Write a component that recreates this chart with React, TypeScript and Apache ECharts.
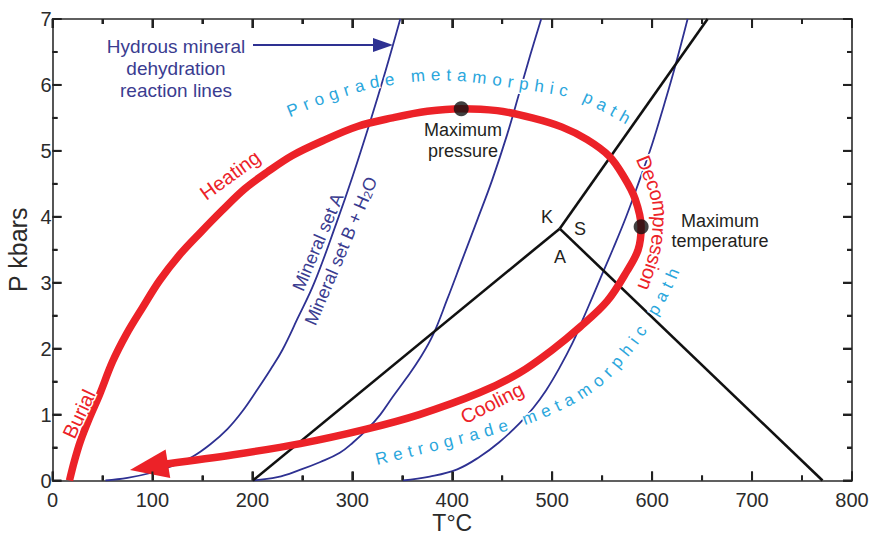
import React, { useEffect, useRef } from "react";
import * as echarts from "echarts";

const FONT = '"Liberation Sans", Arial, Helvetica, sans-serif';
const RED = "#ec2228";
const NAVY = "#2e3192";
const NAVY_TEXT = "#3a3c90";
const CYAN = "#2aa6dc";
const INK = "#231f20";
const AXIS = "#2b2b2b";

// Axis ranges and ticks
const tempMin = 0;
const tempMax = 800;
const tempStep = 100;
const tempTicks = [0, 100, 200, 300, 400, 500, 600, 700, 800];
const tempMinorTicks = [50, 150, 250, 350, 450, 550, 650, 750];
const pressMin = 0;
const pressMax = 7;
const pressStep = 1;
const pressTicks = [0, 1, 2, 3, 4, 5, 6, 7];
const pressMinorTicks = [0.5, 1.5, 2.5, 3.5, 4.5, 5.5, 6.5];

// Metamorphic P–T path (T in °C, P in kbar): burial, heating, max P, max T, decompression, cooling (last point = arrow tip)
const pathT = [17, 22, 28, 37, 47, 60, 74, 90, 107, 127, 148, 170, 192, 215, 240, 270, 305, 340, 375, 409, 445, 480, 510, 535, 557, 572, 583, 589, 586, 575, 555, 528, 500, 467, 427, 367, 314, 248, 181, 114, 77.5];
const pathP = [0, 0.3, 0.6, 0.95, 1.3, 1.8, 2.22, 2.62, 3.03, 3.42, 3.76, 4.1, 4.42, 4.68, 4.93, 5.15, 5.37, 5.5, 5.6, 5.64, 5.61, 5.5, 5.36, 5.17, 4.92, 4.6, 4.27, 3.85, 3.5, 3.18, 2.72, 2.33, 1.98, 1.63, 1.33, 1.0, 0.78, 0.56, 0.39, 0.25, 0.16];

// Hydrous mineral dehydration reaction lines
const reaction1T = [53, 75, 97, 120, 140, 158, 175, 190, 205, 218, 230, 245, 262, 284, 300, 318, 333, 348];
const reaction1P = [0, 0.04, 0.11, 0.22, 0.36, 0.55, 0.78, 1.05, 1.38, 1.68, 1.98, 2.45, 3.0, 3.9, 4.6, 5.45, 6.2, 7.0];
const reaction2T = [200.5, 225, 247.5, 268, 287.5, 301, 314.5, 328, 340.5, 354, 367.5, 380.5, 395, 410, 425, 440, 455, 467.5, 478, 489];
const reaction2P = [0, 0.05, 0.16, 0.28, 0.42, 0.58, 0.77, 1.0, 1.27, 1.55, 1.85, 2.2, 2.75, 3.35, 3.95, 4.56, 5.25, 5.9, 6.45, 7.0];
const reaction3T = [350.5, 377.5, 405, 427.5, 447, 467.5, 481, 494, 507, 520.5, 530, 540.5, 550, 560.5, 574, 587.5, 600, 612, 623, 635.5];
const reaction3P = [0, 0.06, 0.17, 0.36, 0.58, 0.87, 1.1, 1.37, 1.7, 2.09, 2.42, 2.79, 3.13, 3.5, 4.0, 4.56, 5.1, 5.7, 6.28, 7.0];

// Al2SiO5 (kyanite / andalusite / sillimanite) boundaries
const triplePoint = [507.5, 3.82];
const kyaniteAndalusiteEnd = [200.5, 0];
const kyaniteSillimaniteEnd = [655.5, 7];
const andalusiteSillimaniteEnd = [770.5, 0];

const zip = (a: number[], b: number[]) => a.map((v, i) => [v, b[i]]);

function measure(ch: string, font: string): number {
  const c = document.createElement("canvas");
  const ctx = c.getContext("2d")!;
  ctx.font = font;
  return ctx.measureText(ch).width;
}

function sampleSpline(pts: number[][], n = 24): number[][] {
  const out: number[][] = [];
  const f = (a: number, b: number, c: number, d: number, t: number) =>
    0.5 * (2 * b + (-a + c) * t + (2 * a - 5 * b + 4 * c - d) * t * t + (-a + 3 * b - 3 * c + d) * t * t * t);
  for (let i = 0; i < pts.length - 1; i++) {
    const p0 = pts[Math.max(0, i - 1)];
    const p1 = pts[i];
    const p2 = pts[i + 1];
    const p3 = pts[Math.min(pts.length - 1, i + 2)];
    for (let k = 0; k < n; k++) {
      const t = k / n;
      out.push([f(p0[0], p1[0], p2[0], p3[0], t), f(p0[1], p1[1], p2[1], p3[1], t)]);
    }
  }
  out.push(pts[pts.length - 1]);
  return out;
}

function textOnCurve(text: string, guide: number[][], size: number, spacing: number, color: string, halo = true) {
  const font = `${size}px ${FONT}`;
  const s = sampleSpline(guide);
  const cum = [0];
  for (let i = 1; i < s.length; i++) cum.push(cum[i - 1] + Math.hypot(s[i][0] - s[i - 1][0], s[i][1] - s[i - 1][1]));
  const at = (d: number) => {
    let j = 0;
    while (j < s.length - 2 && cum[j + 1] < d) j++;
    const a = s[j];
    const b = s[j + 1];
    const segLen = cum[j + 1] - cum[j] || 1;
    const t = (d - cum[j]) / segLen;
    return { x: a[0] + (b[0] - a[0]) * t, y: a[1] + (b[1] - a[1]) * t, ang: Math.atan2(b[1] - a[1], b[0] - a[0]) };
  };
  const widths = Array.from(text).map((ch) => measure(ch, font));
  const els: any[] = [];
  let d = 0;
  Array.from(text).forEach((ch, i) => {
    if (i > 0) d += (widths[i - 1] + widths[i]) / 2 + spacing;
    if (ch === " ") return;
    const p = at(d);
    els.push({
      type: "text",
      x: p.x,
      y: p.y,
      rotation: -p.ang,
      z: 100,
      silent: true,
      style: {
        text: ch,
        font,
        fill: color,
        align: "center",
        verticalAlign: "middle",
        textAlign: "center",
        textVerticalAlign: "middle",
        ...(halo ? { stroke: "#fff", lineWidth: 3 } : {}),
      },
    });
  });
  return els;
}

function label(text: string, x: number, y: number, size: number, color: string, rotDeg = 0, extra: any = {}) {
  return {
    type: "text",
    x,
    y,
    rotation: (rotDeg * Math.PI) / 180,
    z: 100,
    silent: true,
    style: {
      text,
      font: `${size}px ${FONT}`,
      fontSize: size,
      fontFamily: FONT,
      fill: color,
      align: "center",
      verticalAlign: "middle",
      textAlign: "center",
      textVerticalAlign: "middle",
      ...extra,
    },
  };
}

export default function App() {
  const ref = useRef<HTMLDivElement>(null);
  useEffect(() => {
    if (!ref.current) return;
    const chart = echarts.init(ref.current, null, { renderer: "svg" });

    const pathPts = zip(pathT, pathP);
    const shaft = pathPts.slice(0, -1);
    const tip = pathPts[pathPts.length - 1];
    const prev = pathPts[pathPts.length - 2];
    let iMaxP = 0;
    let iMaxT = 0;
    pathP.forEach((v, i) => { if (v > pathP[iMaxP]) iMaxP = i; });
    pathT.forEach((v, i) => { if (v > pathT[iMaxT]) iMaxT = i; });

    const MAJOR = 9;
    const MINOR = 5;
    const axisLine = () => ({ show: true, onZero: false, lineStyle: { color: AXIS, width: 1.6 } });
    const axisTick = () => ({ show: true, inside: true, length: MAJOR, lineStyle: { color: "#222", width: 2 } });
    const minorTick = () => ({ show: true, splitNumber: 2, length: MINOR, lineStyle: { color: "#222", width: 2 } });
    const labelStyle = { color: AXIS, fontSize: 20, fontFamily: FONT };

    const reactionLine = (t: number[], p: number[]) => ({
      type: "line",
      data: zip(t, p),
      smooth: 0.4,
      showSymbol: false,
      silent: true,
      z: 2,
      lineStyle: { color: NAVY, width: 1.8 },
    });
    const blackLine = (a: number[], b: number[]) => ({
      type: "line",
      data: [a, b],
      showSymbol: false,
      silent: true,
      z: 3,
      lineStyle: { color: "#111", width: 2.6 },
    });
    const tickLine = (x1: number, y1: number, x2: number, y2: number) => ({
      type: "line",
      shape: { x1, y1, x2, y2 },
      style: { stroke: "#222", lineWidth: 2 },
    });

    const graphic: any[] = [
      label("Hydrous mineral\ndehydration\nreaction lines", 176, 68, 19, NAVY_TEXT, 0, { lineHeight: 22 }),
      { type: "line", z: 100, silent: true, shape: { x1: 253, y1: 45, x2: 378, y2: 45 }, style: { stroke: NAVY, lineWidth: 2.2 } },
      { type: "polygon", z: 100, silent: true, shape: { points: [[393, 45], [373, 38], [373, 52]] }, style: { fill: NAVY } },
      label("Mineral set A", 318, 242, 18, NAVY_TEXT, 67),
      {
        type: "text",
        x: 341,
        y: 251,
        rotation: (67 * Math.PI) / 180,
        z: 100,
        silent: true,
        style: {
          text: "Mineral set B + H{sub|2}O",
          fontSize: 18,
          fontFamily: FONT,
          fill: NAVY_TEXT,
          align: "center",
          verticalAlign: "middle",
          textAlign: "center",
          textVerticalAlign: "middle",
          rich: { sub: { fontSize: 12, fontFamily: FONT, fill: NAVY_TEXT, verticalAlign: "bottom", lineHeight: 14, padding: [8, 0, 0, 0] } },
        },
      },
      ...textOnCurve(
        "Prograde metamorphic path",
        [[293, 110], [323, 98], [363, 85], [388, 80], [417, 76], [450, 75], [482, 78], [517, 83], [550, 88], [570, 92], [586, 97], [600, 104], [612, 110], [622, 116], [640, 126]],
        17, 6, CYAN
      ),
      ...textOnCurve(
        "Retrograde metamorphic path",
        [[381.7, 458.3], [435, 445], [490, 430], [531.7, 416.7], [573, 398], [601.7, 378], [620, 358], [636.7, 336.7], [653, 311.7], [665, 290], [673, 273], [681, 252]],
        17, 5.7, CYAN
      ),
      ...textOnCurve(
        "Decompression",
        [[645, 163], [655, 188], [660, 210], [659, 232], [657, 250], [652, 267], [643, 291], [635, 305]],
        20, 0, RED
      ),
      label("Heating", 230, 175, 20, RED, 36, { stroke: "#fff", lineWidth: 3 }),
      label("Burial", 79, 414, 20, RED, 65, { stroke: "#fff", lineWidth: 3 }),
      label("Cooling", 492, 403, 20, RED, 27, { stroke: "#fff", lineWidth: 3 }),
      label("Maximum\npressure", 463, 140, 18, INK, 0, { lineHeight: 21 }),
      label("Maximum\ntemperature", 720, 231, 18, INK, 0, { lineHeight: 20 }),
      label("K", 547, 217, 18, INK),
      label("S", 580, 229, 18, INK),
      label("A", 560, 257, 18, INK),
    ];

    chart.setOption({
      animation: false,
      backgroundColor: "#ffffff",
      textStyle: { fontFamily: FONT },
      grid: { left: 52.5, right: 24, top: 19, bottom: 54.5, containLabel: false, outerBoundsMode: "none" },
      xAxis: [
        {
          type: "value",
          position: "bottom",
          min: tempMin,
          max: tempMax,
          interval: tempStep,
          axisLine: axisLine(),
          axisTick: axisTick(),
          minorTick: minorTick(),
          splitLine: { show: false },
          axisLabel: { ...labelStyle, margin: 9 },
          name: "T°C",
          nameLocation: "middle",
          nameGap: 31,
          nameMoveOverlap: false,
          nameTextStyle: { color: AXIS, fontSize: 23, fontFamily: FONT },
        },
        {
          type: "value",
          position: "top",
          min: tempMin,
          max: tempMax,
          interval: tempStep,
          axisLine: axisLine(),
          axisTick: axisTick(),
          minorTick: minorTick(),
          splitLine: { show: false },
          axisLabel: { show: false },
        },
      ],
      yAxis: [
        {
          type: "value",
          position: "left",
          min: pressMin,
          max: pressMax,
          interval: pressStep,
          axisLine: axisLine(),
          axisTick: axisTick(),
          minorTick: minorTick(),
          splitLine: { show: false },
          axisLabel: { ...labelStyle, margin: 1 },
          name: "P kbars",
          nameLocation: "middle",
          nameRotate: 90,
          nameGap: 22,
          nameMoveOverlap: false,
          nameTextStyle: { color: AXIS, fontSize: 25, fontFamily: FONT },
        },
        {
          type: "value",
          position: "right",
          min: pressMin,
          max: pressMax,
          interval: pressStep,
          axisLine: axisLine(),
          axisTick: axisTick(),
          minorTick: minorTick(),
          splitLine: { show: false },
          axisLabel: { show: false },
        },
      ],
      series: [
        // inward ticks on all four frame sides, placed through the axes' scales
        {
          type: "custom",
          coordinateSystem: "cartesian2d",
          silent: true,
          clip: false,
          z: 10,
          data: [...tempTicks.map((t) => [t, pressMin, MAJOR]), ...tempMinorTicks.map((t) => [t, pressMin, MINOR])],
          renderItem: (_params: any, api: any) => {
            const t = api.value(0);
            const len = api.value(2);
            const b = api.coord([t, pressMin]);
            const top = api.coord([t, pressMax]);
            return { type: "group", children: [tickLine(b[0], b[1], b[0], b[1] - len), tickLine(top[0], top[1], top[0], top[1] + len)] };
          },
        },
        {
          type: "custom",
          coordinateSystem: "cartesian2d",
          silent: true,
          clip: false,
          z: 10,
          data: [...pressTicks.map((p) => [tempMin, p, MAJOR]), ...pressMinorTicks.map((p) => [tempMin, p, MINOR])],
          renderItem: (_params: any, api: any) => {
            const p = api.value(1);
            const len = api.value(2);
            const l = api.coord([tempMin, p]);
            const r = api.coord([tempMax, p]);
            return { type: "group", children: [tickLine(l[0], l[1], l[0] + len, l[1]), tickLine(r[0], r[1], r[0] - len, r[1])] };
          },
        },
        reactionLine(reaction1T, reaction1P),
        reactionLine(reaction2T, reaction2P),
        reactionLine(reaction3T, reaction3P),
        blackLine(triplePoint, kyaniteAndalusiteEnd),
        blackLine(triplePoint, kyaniteSillimaniteEnd),
        blackLine(triplePoint, andalusiteSillimaniteEnd),
        {
          type: "line",
          data: shaft,
          smooth: 0.35,
          showSymbol: false,
          silent: true,
          z: 5,
          lineStyle: { color: RED, width: 7.5, cap: "butt", join: "round" },
        },
        {
          type: "custom",
          coordinateSystem: "cartesian2d",
          silent: true,
          z: 6,
          data: [[tip[0], tip[1], prev[0], prev[1]]],
          renderItem: (_params: any, api: any) => {
            const a = api.coord([api.value(0), api.value(1)]);
            const b = api.coord([api.value(2), api.value(3)]);
            const dx = a[0] - b[0];
            const dy = a[1] - b[1];
            const len = Math.hypot(dx, dy) || 1;
            const ux = dx / len;
            const uy = dy / len;
            const L = len + 1.5;
            const W = 29;
            const bx = a[0] - ux * L;
            const by = a[1] - uy * L;
            return {
              type: "polygon",
              shape: { points: [a, [bx - (uy * W) / 2, by + (ux * W) / 2], [bx + (uy * W) / 2, by - (ux * W) / 2]] },
              style: { fill: RED },
            };
          },
        },
        {
          type: "scatter",
          silent: true,
          z: 8,
          symbolSize: 15,
          itemStyle: { color: "#111" },
          data: [pathPts[iMaxP], pathPts[iMaxT]],
        },
      ],
      graphic,
    });
    return () => chart.dispose();
  }, []);

  return <div ref={ref} style={{ position: "fixed", left: 0, top: 0, width: 876, height: 535, background: "#fff" }} />;
}
